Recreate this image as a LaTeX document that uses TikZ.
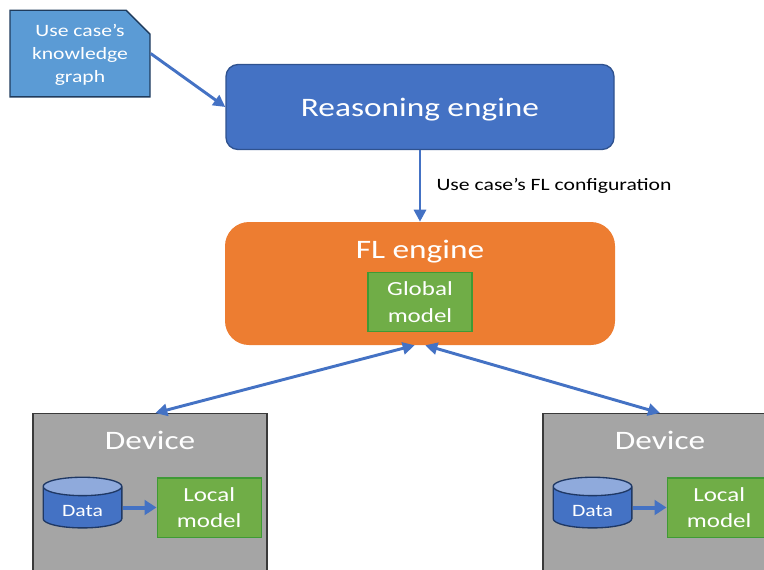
\documentclass[tikz,border=0pt]{standalone}
\usepackage{fontspec}
\setmainfont[FakeStretch=1.25]{Carlito}
\usetikzlibrary{arrows.meta,positioning,shapes.geometric,shapes.misc}
\definecolor{engineblue}{HTML}{4472C4}
\definecolor{engineline}{HTML}{2F528F}
\definecolor{docblue}{HTML}{5B9BD5}
\definecolor{docline}{HTML}{1F3B5C}
\definecolor{florange}{HTML}{ED7D31}
\definecolor{modelgreen}{HTML}{70AD47}
\definecolor{modelline}{HTML}{3F9A35}
\definecolor{devicegray}{HTML}{A5A5A5}
\definecolor{deviceline}{HTML}{3A3A3A}
\definecolor{datatop}{HTML}{8FAADC}
\definecolor{dataline}{HTML}{1F3864}
\tikzset{
    kgdoc/.style={chamfered rectangle,chamfered rectangle corners=north east,chamfered rectangle xsep=9pt,chamfered rectangle ysep=9pt,draw=docline,fill=docblue,line width=1pt,text=white,align=center,text depth=-6pt,minimum width=105pt,minimum height=65pt,inner sep=0pt,font=\fontsize{13}{17}\selectfont},
    reasoner/.style={rectangle,rounded corners=9pt,draw=engineline,fill=engineblue,line width=1pt,text=white,text depth=0pt,minimum width=291pt,minimum height=63.75pt,font=\fontsize{20}{24}\selectfont},
    flbox/.style={rectangle,rounded corners=18pt,fill=florange,minimum width=292.5pt,minimum height=92.25pt},
    model/.style={rectangle,draw=modelline,fill=modelgreen,line width=1pt,text=white,align=center,minimum width=78pt,minimum height=44.5pt,inner sep=0pt,font=\fontsize{15}{20}\selectfont},
    device/.style={rectangle,draw=deviceline,fill=devicegray,line width=1pt,anchor=north,minimum width=175.5pt,minimum height=150pt},
    title/.style={anchor=north,yshift=-10pt,text=white,font=\fontsize{20}{24}\selectfont},
    data/.style={cylinder,shape border rotate=90,aspect=0.45,draw=dataline,line width=1pt,cylinder uses custom fill,cylinder body fill=engineblue,cylinder end fill=datatop,text=white,text height=13pt,minimum width=59pt,minimum height=38pt,inner sep=0pt,font=\fontsize{13}{16}\selectfont},
    flow/.style={-{Triangle[length=9pt,width=9pt]},draw=engineblue,line width=2.2pt},
    sync/.style={{Triangle[length=9pt,width=9pt]}-{Triangle[length=9pt,width=9pt]},draw=engineblue,line width=2.2pt},
    feed/.style={-{Triangle[length=9pt,width=11pt]},draw=engineblue,line width=3pt}
}

\begin{document}
\begin{tikzpicture}[x=0.75pt,y=-0.75pt]

    \clip (0,0) rectangle (764,569);

    \node[kgdoc]    (kg graph)  at (80,53.5)    {Use case’s\\knowledge\\graph};
    \node[reasoner] (reasoning) at (420,107)    {Reasoning engine};
    \node[flbox]    (fl engine) at (420,283.5)  [label={[title]north:FL engine}] {};
    \node[model]    (global)    at (420,302)    {Global\\model};

    \node[device] (device 1) at (150,413) [label={[title]north:Device}] {};
    \node[data]   (data 1)   at (82.5,507.5)    {Data};
    \node[model]  (local 1)  [right=25.5pt of data 1] {Local\\model};

    \node[device] (device 2) at (660,413) [label={[title]north:Device}] {};
    \node[data]   (data 2)   at (592.5,507.5)   {Data};
    \node[model]  (local 2)  [right=25.5pt of data 2] {Local\\model};

    \draw[flow] (kg graph.east) -- (reasoning.west);
    \draw[flow] (reasoning.south) -- (fl engine.north)
        node[midway,right=8pt,font=\fontsize{13}{16}\selectfont] {Use case’s FL configuration};
    \draw[sync] ([xshift=-4pt]fl engine.south) -- ([xshift=4pt]device 1.north);
    \draw[sync] ([xshift=4pt]fl engine.south) -- (device 2.north);
    \draw[feed] (data 1.east) -- (local 1.west);
    \draw[feed] (data 2.east) -- (local 2.west);

\end{tikzpicture}
\end{document}
